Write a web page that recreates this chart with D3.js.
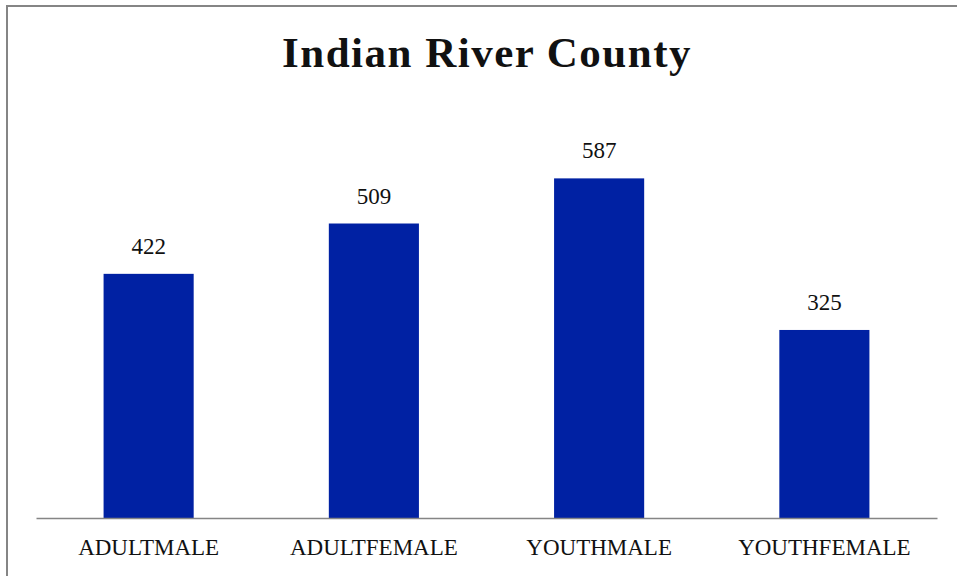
<!DOCTYPE html>
<html>
<head>
<meta charset="utf-8">
<script src="https://cdn.jsdelivr.net/npm/d3@7"></script>
<style>
  html, body { margin: 0; padding: 0; background: #fff; }
  svg { display: block; }
  text { font-family: "Liberation Serif", "DejaVu Serif", serif; fill: #111; }
</style>
</head>
<body>
<div id="chart"></div>
<script>
const title = "Indian River County";
const categories = ["ADULTMALE", "ADULTFEMALE", "YOUTHMALE", "YOUTHFEMALE"];
const values = [422, 509, 587, 325];
const yMax = 700;

const width = 957, height = 576;
const margin = { top: 113, right: 20, bottom: 58, left: 36 };
const plotRight = 937;

const svg = d3.select("#chart").append("svg")
  .attr("width", width)
  .attr("height", height);

// outer chart border (runs past the window on right and bottom)
svg.append("rect")
  .attr("x", 7).attr("y", 6)
  .attr("width", 970).attr("height", 600)
  .attr("fill", "none")
  .attr("stroke", "#858585")
  .attr("stroke-width", 2);

svg.append("text")
  .attr("x", 487)
  .attr("y", 67)
  .attr("text-anchor", "middle")
  .style("font-size", "43px")
  .style("font-weight", "bold")
  .style("letter-spacing", "1.5px")
  .text(title);

const x = d3.scaleBand()
  .domain(categories)
  .range([margin.left, plotRight])
  .paddingInner(0.6)
  .paddingOuter(0.3);

const y = d3.scaleLinear()
  .domain([0, yMax])
  .range([height - margin.bottom, margin.top]);

const data = categories.map((c, i) => ({ cat: c, val: values[i] }));

svg.selectAll("rect.bar")
  .data(data)
  .join("rect")
  .attr("class", "bar")
  .attr("x", d => x(d.cat))
  .attr("y", d => y(d.val))
  .attr("width", x.bandwidth())
  .attr("height", d => y(0) - y(d.val))
  .attr("fill", "#0021A3");

svg.selectAll("text.val")
  .data(data)
  .join("text")
  .attr("class", "val")
  .attr("x", d => x(d.cat) + x.bandwidth() / 2)
  .attr("y", d => y(d.val) - 20)
  .attr("text-anchor", "middle")
  .style("font-size", "23px")
  .text(d => d.val);

const xAxis = svg.append("g")
  .attr("transform", `translate(0,${y(0)})`)
  .call(d3.axisBottom(x).tickSize(0).tickPadding(0));

xAxis.select(".domain")
  .attr("stroke", "#858585")
  .attr("stroke-width", 1.5);

xAxis.selectAll(".tick text")
  .attr("y", 37)
  .attr("dy", null)
  .style("font-size", "23px")
  .style("font-family", "'Liberation Serif', serif")
  .attr("fill", "#111");
</script>
</body>
</html>
